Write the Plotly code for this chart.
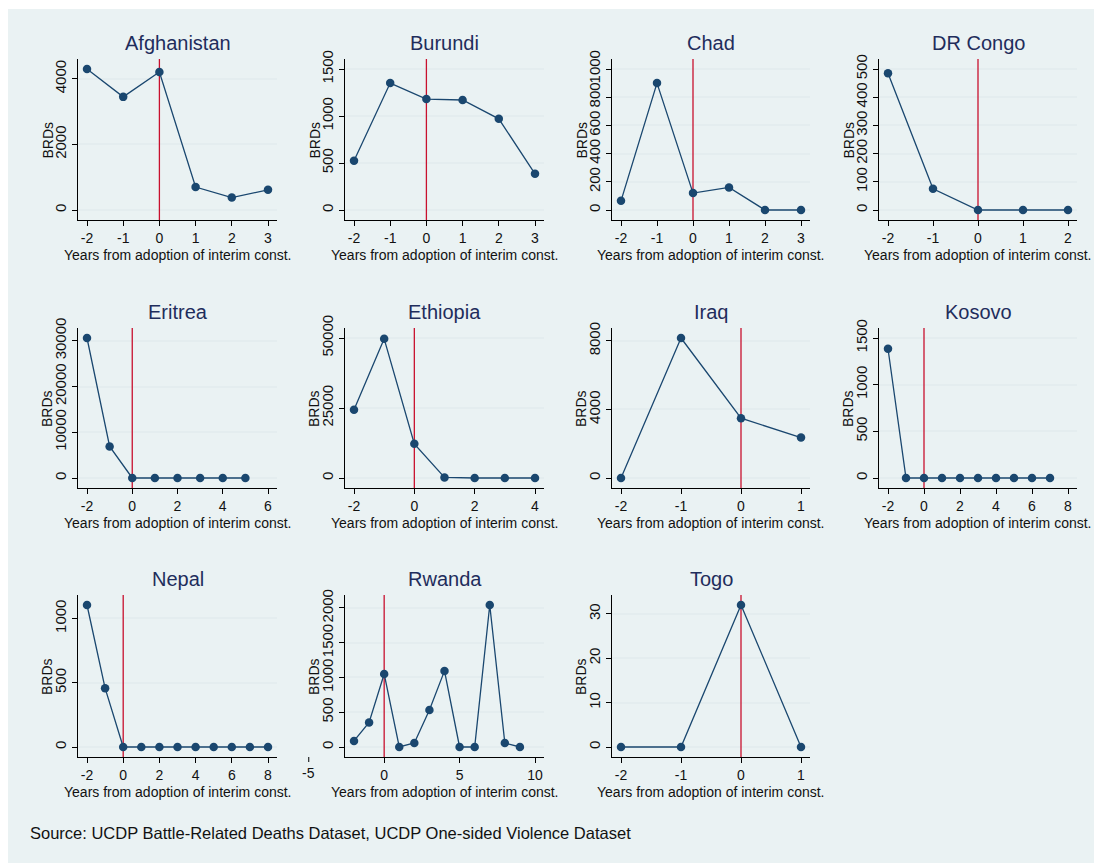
import plotly.graph_objects as go

# ---------------- data ----------------
countries = ["Afghanistan", "Burundi", "Chad", "DR Congo", "Eritrea", "Ethiopia",
             "Iraq", "Kosovo", "Nepal", "Rwanda", "Togo"]

afghanistan_years = [-2, -1, 0, 1, 2, 3]
afghanistan_brds = [4300, 3450, 4210, 700, 380, 615]

burundi_years = [-2, -1, 0, 1, 2, 3]
burundi_brds = [525, 1350, 1180, 1170, 970, 385]

chad_years = [-2, -1, 0, 1, 2, 3]
chad_brds = [65, 900, 120, 160, 0, 0]

drcongo_years = [-2, -1, 0, 1, 2]
drcongo_brds = [485, 75, 0, 0, 0]

eritrea_years = [-2, -1, 0, 1, 2, 3, 4, 5]
eritrea_brds = [30600, 6900, 0, 0, 0, 0, 0, 0]

ethiopia_years = [-2, -1, 0, 1, 2, 3, 4]
ethiopia_brds = [24400, 49700, 12200, 200, 0, 0, 0]

iraq_years = [-2, -1, 0, 1]
iraq_brds = [0, 8170, 3490, 2360]

kosovo_years = [-2, -1, 0, 1, 2, 3, 4, 5, 6, 7]
kosovo_brds = [1385, 0, 0, 0, 0, 0, 0, 0, 0, 0]

nepal_years = [-2, -1, 0, 1, 2, 3, 4, 5, 6, 7, 8]
nepal_brds = [1105, 458, 0, 0, 0, 0, 0, 0, 0, 0, 0]

rwanda_years = [-2, -1, 0, 1, 2, 3, 4, 5, 6, 7, 8, 9]
rwanda_brds = [87, 354, 1051, 0, 58, 533, 1095, 0, 0, 2043, 58, 0]

togo_years = [-2, -1, 0, 1]
togo_brds = [0, 0, 32, 0]

x_ticks = {
    "Afghanistan": [-2, -1, 0, 1, 2, 3],
    "Burundi": [-2, -1, 0, 1, 2, 3],
    "Chad": [-2, -1, 0, 1, 2, 3],
    "DR Congo": [-2, -1, 0, 1, 2],
    "Eritrea": [-2, 0, 2, 4, 6],
    "Ethiopia": [-2, 0, 2, 4],
    "Iraq": [-2, -1, 0, 1],
    "Kosovo": [-2, 0, 2, 4, 6, 8],
    "Nepal": [-2, 0, 2, 4, 6, 8],
    "Rwanda": [-5, 0, 5, 10],
    "Togo": [-2, -1, 0, 1],
}
y_ticks = {
    "Afghanistan": [0, 2000, 4000],
    "Burundi": [0, 500, 1000, 1500],
    "Chad": [0, 200, 400, 600, 800, 1000],
    "DR Congo": [0, 100, 200, 300, 400, 500],
    "Eritrea": [0, 10000, 20000, 30000],
    "Ethiopia": [0, 25000, 50000],
    "Iraq": [0, 4000, 8000],
    "Kosovo": [0, 500, 1000, 1500],
    "Nepal": [0, 500, 1000],
    "Rwanda": [0, 500, 1000, 1500, 2000],
    "Togo": [0, 10, 20, 30],
}

series = {
    "Afghanistan": (afghanistan_years, afghanistan_brds),
    "Burundi": (burundi_years, burundi_brds),
    "Chad": (chad_years, chad_brds),
    "DR Congo": (drcongo_years, drcongo_brds),
    "Eritrea": (eritrea_years, eritrea_brds),
    "Ethiopia": (ethiopia_years, ethiopia_brds),
    "Iraq": (iraq_years, iraq_brds),
    "Kosovo": (kosovo_years, kosovo_brds),
    "Nepal": (nepal_years, nepal_brds),
    "Rwanda": (rwanda_years, rwanda_brds),
    "Togo": (togo_years, togo_brds),
}

x_title = "Years from adoption of interim const."
y_title = "BRDs"
source_text = "Source: UCDP Battle-Related Deaths Dataset, UCDP One-sided Violence Dataset"

# ---------------- layout geometry (page pixels) ----------------
W, H = 1102, 863
OFF = 8  # page offset of the figure (body margin)
col_px = [(78, 277), (345, 544), (612, 810), (879, 1077)]
row_px = [(59, 220), (328, 488), (595, 757)]
XPAD, YPAD = 9, 10

FONT = "Liberation Sans, Arial, Helvetica, sans-serif"
BG = "#eaf2f3"
NAVY = "#1a476f"
RED = "#c8102e"
TITLE_COL = "#1f2d5c"
TXT = "#111111"


def fx(px):
    return (px - OFF) / W


def fy(py):
    return 1 - (py - OFF) / H


def padded(lo, hi, npx, pad):
    k = (npx - 2 * pad) / (hi - lo)
    return [lo - pad / k, hi + pad / k]


fig = go.Figure()
shapes = [dict(type="rect", xref="paper", yref="paper", x0=0, x1=1, y0=0, y1=fy(9),
               fillcolor=BG, line=dict(width=0), layer="below")]
annotations = []

for i, c in enumerate(countries):
    r, col = divmod(i, 4)
    n = i + 1
    xs, ys = series[c]
    xn = "x" if n == 1 else f"x{n}"
    yn = "y" if n == 1 else f"y{n}"
    (px0, px1), (py0, py1) = col_px[col], row_px[r]

    xt, yt = x_ticks[c], y_ticks[c]
    xlo = min(xs) if c == "Rwanda" else min(min(xs), min(xt))
    xhi = max(max(xs), max(xt))
    ylo = min(min(ys), min(yt))
    yhi = max(max(ys), max(yt))
    xr = padded(xlo, xhi, px1 - px0, XPAD)
    yr = padded(ylo, yhi, py1 - py0, YPAD)

    # reference line at adoption year
    fig.add_trace(go.Scatter(x=[0, 0], y=yr, mode="lines", xaxis=xn, yaxis=yn,
                             line=dict(color=RED, width=1.3), hoverinfo="skip",
                             showlegend=False))
    fig.add_trace(go.Scatter(x=xs, y=ys, mode="lines+markers", xaxis=xn, yaxis=yn,
                             line=dict(color=NAVY, width=1.3), name=c,
                             marker=dict(color=NAVY, size=8.5), showlegend=False,
                             cliponaxis=False))

    fig.layout[("xaxis" if n == 1 else f"xaxis{n}")] = dict(
        domain=[fx(px0), fx(px1)], anchor=yn, range=xr, tickmode="array", tickvals=xt,
        ticktext=[str(t) for t in xt], automargin=False,
        showgrid=False, zeroline=False, showline=True, linecolor="#000", linewidth=1,
        ticks="outside", ticklen=5, tickcolor="#000", tickwidth=1,
        tickfont=dict(family=FONT, size=14, color=TXT),
    )
    fig.layout[("yaxis" if n == 1 else f"yaxis{n}")] = dict(
        domain=[fy(py1), fy(py0)], anchor=xn, range=yr, tickmode="array", tickvals=yt,
        ticktext=[str(t) for t in yt], automargin=False,
        showgrid=True, gridcolor="#e4edef", gridwidth=1.5, zeroline=False,
        showline=True, linecolor="#000", linewidth=1,
        ticks="outside", ticklen=5, tickcolor="#000", tickwidth=1, tickangle=-90,
        tickfont=dict(family=FONT, size=15, color=TXT),
    )
    # panel title
    annotations.append(dict(text=c, xref="paper", yref="paper", x=fx((px0 + px1) / 2),
                            y=fy(py0 - 16), xanchor="center", yanchor="middle",
                            showarrow=False, font=dict(family=FONT, size=20, color=TITLE_COL)))
    # x axis title
    annotations.append(dict(text=x_title, xref="paper", yref="paper", x=fx((px0 + px1) / 2),
                            y=fy(py1 + 35), xanchor="center", yanchor="middle",
                            showarrow=False, font=dict(family=FONT, size=14, color=TXT)))
    # y axis title
    annotations.append(dict(text=y_title, xref="paper", yref="paper", x=fx(px0 - 31),
                            y=fy((py0 + py1) / 2 + 1), xanchor="center", yanchor="middle",
                            textangle=-90, showarrow=False,
                            font=dict(family=FONT, size=14, color=TXT)))

    if c == "Rwanda":
        # tick drawn outside the plot region, as in the original
        for t in [t for t in xt if t < xr[0]]:
            frac = (t - xr[0]) / (xr[1] - xr[0])
            xp = fx(px0) + frac * (fx(px1) - fx(px0))
            shapes.append(dict(type="line", xref="paper", yref="paper", x0=xp, x1=xp,
                               y0=fy(py1), y1=fy(py1 + 5), line=dict(color="#000", width=1)))
            annotations.append(dict(text=str(t), xref="paper", yref="paper", x=xp,
                                    y=fy(py1 + 16), xanchor="center", yanchor="middle",
                                    showarrow=False,
                                    font=dict(family=FONT, size=14, color=TXT)))

annotations.append(dict(text=source_text, xref="paper", yref="paper", x=fx(28), y=fy(833),
                        xanchor="left", yanchor="middle", showarrow=False,
                        font=dict(family=FONT, size=16.5, color=TXT)))

fig.update_layout(width=W, height=H, margin=dict(l=0, r=0, t=0, b=0, autoexpand=False),
                  paper_bgcolor="white", plot_bgcolor="white",
                  shapes=shapes, annotations=annotations, showlegend=False)

fig.write_html("out.html")
